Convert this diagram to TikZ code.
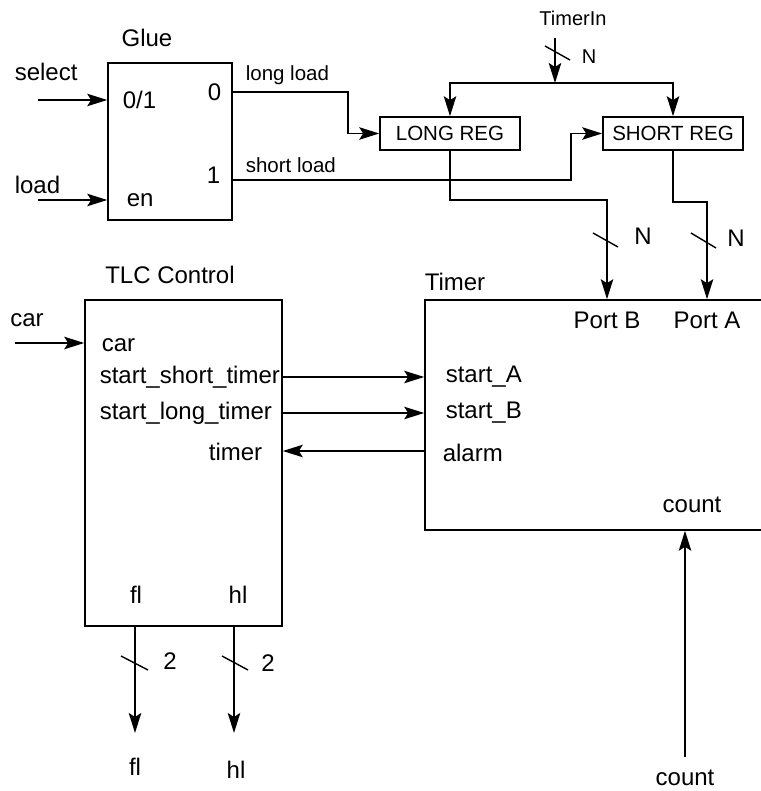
\documentclass[tikz,border=0pt]{standalone}
\usepackage{fontspec}
\setmainfont{Liberation Sans}
\usetikzlibrary{arrows.meta,positioning,calc}

\begin{document}
\begin{tikzpicture}[x=1pt, y=-1pt,
  font=\fontsize{24}{28}\selectfont,
  line width=1.6pt,
  block/.style={draw, line width=1.6pt, inner sep=0pt},
  reg/.style={draw, line width=1.6pt, minimum width=140pt, minimum height=33pt,
    font=\fontsize{20.5}{24}\selectfont},
  lbl/.style={inner sep=0pt},
  small/.style={inner sep=0pt, font=\fontsize{20.5}{24}\selectfont},
  flow/.style={-{Stealth[length=20pt, width=12.5pt, inset=4pt]}},
  tick/.style={line width=1.4pt}
]
\useasboundingbox (0,0) rectangle (760,791);

% Glue
\node[block, minimum width=124pt, minimum height=157pt] (glue) at (170,141.5) {};
\node[lbl] (gluet) at (147,38) {Glue};
\node[lbl, anchor=west] (g01) at (122,100) {0/1};
\node[lbl, anchor=west] (gen) at (126,200) {en};
\node[lbl, anchor=east] (g0) at (222,92) {0};
\node[lbl, anchor=east] (g1) at (221,175) {1};
\node[lbl, anchor=west] (sel) at (14,72) {select};
\node[lbl, anchor=west] (ld) at (14,185) {load};
\coordinate (selin) at (38,100);
\coordinate (ldin) at (38,200);
\draw[flow] (selin) -- (selin -| glue.west);
\draw[flow] (ldin) -- (ldin -| glue.west);

% registers
\node[reg] (lreg) at (450,133.5) {LONG REG};
\node[reg] (sreg) at (673,133.5) {SHORT REG};
\node[small, anchor=west] (ll) at (245,75) {long load};
\node[small, anchor=west] (sl) at (245,165) {short load};
\coordinate (g0out) at (glue.east |- g0);
\coordinate (g1out) at (glue.east |- 0,180);
\draw[flow] (g0out) -- ++(115,0) |- (lreg.west);
\draw[flow] (g1out) -- ++(338,0) |- (sreg.west);

% TimerIn bus
\node[small, font=\fontsize{20}{24}\selectfont] (tin) at (573,18) {TimerIn};
\coordinate (tinsrc) at (555,38);
\coordinate (split) at (555,83);
\draw[flow] (tinsrc) -- (split);
\draw[flow] (split) -| (lreg.north);
\draw[flow] (split) -| (sreg.north);
\draw[tick] (545,46) -- (570,60);
\node[lbl, font=\fontsize{20}{24}\selectfont] (tinN) at (589,57) {N};

% Timer
\node[block, minimum width=345pt, minimum height=230pt] (timer) at (597.5,415) {};
\node[lbl] (timert) at (455,282) {Timer};
\node[lbl] (pB) at (607,320) {Port B};
\node[lbl] (pA) at (707,320) {Port A};
\node[lbl, anchor=west] (stA) at (445,377) {start\_A};
\node[lbl, anchor=west] (stB) at (445,413) {start\_B};
\node[lbl, anchor=west] (alm) at (442,453) {alarm};
\node[lbl] (cnt) at (692,505) {count};
\draw[flow] (lreg.south) |- (pB |- 0,200) -- (pB |- timer.north);
\draw[flow] (sreg.south) |- (pA |- 0,202) -- (pA |- timer.north);
\draw[tick] (593,233) -- (618,247);
\node[lbl] (nB) at (643,236) {N};
\draw[tick] (691,233) -- (716,248);
\node[lbl] (nA) at (736,238) {N};

% TLC Control
\node[block, minimum width=197pt, minimum height=326pt] (tlc) at (183.5,463) {};
\node[lbl] (tlct) at (170,275) {TLC Control};
\node[lbl] (car) at (27,320) {car};
\coordinate (carin) at (15,343);
\draw[flow] (carin) -- (carin -| tlc.west);
\node[lbl, anchor=west] (tcar) at (101,345) {car};
\node[lbl, anchor=west] (sst) at (99,377) {start\_short\_timer};
\node[lbl, anchor=west] (slt) at (99,413) {start\_long\_timer};
\node[lbl, anchor=east] (ttm) at (263,452) {timer};
\node[lbl] (tfl) at (136,595) {fl};
\node[lbl] (thl) at (238,595) {hl};
\draw[flow] (tlc.east |- sst) -- (timer.west |- sst);
\draw[flow] (tlc.east |- slt) -- (timer.west |- slt);
\draw[flow] (timer.west |- 0,451) -- (tlc.east |- 0,451);

% outputs
\coordinate (flout) at (135,733);
\coordinate (hlout) at (234,733);
\draw[flow] (flout |- tlc.south) -- (flout);
\draw[flow] (hlout |- tlc.south) -- (hlout);
\draw[tick] (121,656) -- (148,670);
\node[lbl] (w1) at (170,661) {2};
\draw[tick] (222,656) -- (248,670);
\node[lbl] (w2) at (268,663) {2};
\node[lbl] (ofl) at (135,767) {fl};
\node[lbl] (ohl) at (236,770) {hl};

% count
\coordinate (cntin) at (685,757);
\draw[flow] (cntin) -- (cntin |- timer.south);
\node[lbl] (ocnt) at (685,778) {count};
\end{tikzpicture}
\end{document}
